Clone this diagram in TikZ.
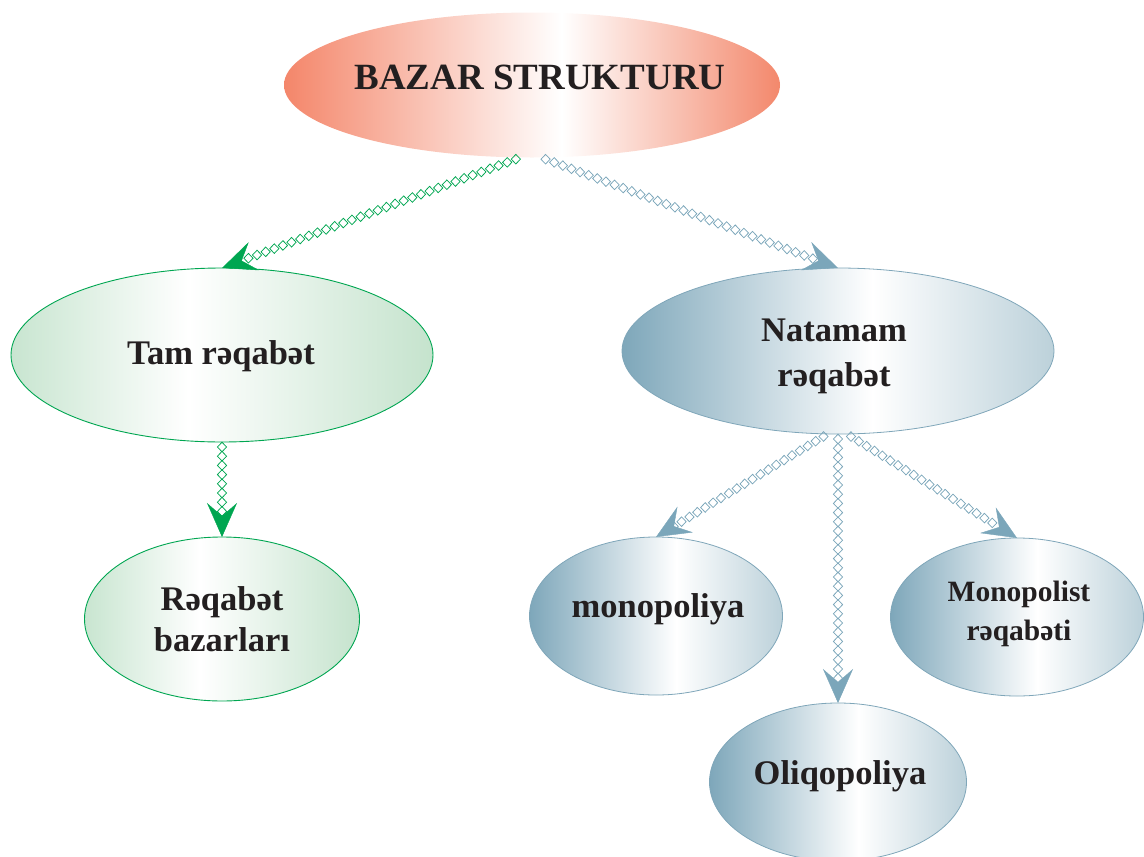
\documentclass[tikz,border=0pt]{standalone}
\usepackage{fontspec}
\setmainfont{Liberation Serif}
\usetikzlibrary{shapes.geometric,decorations.markings,arrows.meta}

% palette
\definecolor{ink}{HTML}{231F20}
\definecolor{salmonL}{HTML}{F4866A}
\definecolor{salmonR}{HTML}{F3886C}
\definecolor{grn}{HTML}{00A651}
\definecolor{grnL}{HTML}{C8E5D0}
\definecolor{grnR}{HTML}{C5E3CD}
\definecolor{bluL}{HTML}{7EA7BA}
\definecolor{bluR}{HTML}{BCD1DA}
\definecolor{bluedge}{HTML}{7FA6B9}
\definecolor{bluarrow}{HTML}{7BA6BA}

% horizontal fills (inner 25bp..75bp span the shape)
\pgfdeclarehorizontalshading{salmonshade}{100bp}{color(0bp)=(salmonL); color(25bp)=(salmonL); color(53bp)=(white); color(75bp)=(salmonR); color(100bp)=(salmonR)}
\pgfdeclarehorizontalshading{greenshade}{100bp}{color(0bp)=(grnL); color(25bp)=(grnL); color(46bp)=(white); color(75bp)=(grnR); color(100bp)=(grnR)}
\pgfdeclarehorizontalshading{blueshade}{100bp}{color(0bp)=(bluL); color(25bp)=(bluL); color(54bp)=(white); color(75bp)=(bluR); color(100bp)=(bluR)}

\tikzset{
  oval/.style={ellipse, inner sep=0pt, outer sep=0pt},
  topoval/.style={oval, shade, shading=salmonshade},
  greenoval/.style={oval, draw=grn, line width=0.9pt, shade, shading=greenshade},
  blueoval/.style={oval, draw=bluedge, line width=0.8pt, shade, shading=blueshade},
  lbl/.style={anchor=base, text=ink, inner sep=0pt, font=\bfseries\fontsize{34.5}{40}\selectfont},
  smalllbl/.style={lbl, font=\bfseries\fontsize{29.5}{36}\selectfont},
  % chain of small upright diamonds ending in a barbed head
  linkchain/.style={decoration={markings,
      mark=between positions 5pt and -20pt step 9.2pt with
        {\pgftransformresetnontranslations
         \draw[draw=#1, line width=0.75pt] (-4.6pt,0pt) -- (0pt,4.8pt) -- (4.6pt,0pt) -- (0pt,-4.8pt) -- cycle;},
      mark=at position 1 with
        {\arrow[#1]{Stealth[length=34pt, width=30pt, inset=13pt]}}},
    decorate},
}

\begin{document}
\begin{tikzpicture}[x=1pt, y=-1pt]
\useasboundingbox (0,0) rectangle (1144,857);

% ovals
\node[topoval, minimum width=496pt, minimum height=145pt] (top) at (532,85) {};
\node[greenoval, minimum width=422pt, minimum height=174pt] (tam) at (222,355) {};
\node[blueoval, minimum width=432pt, minimum height=166pt] (nat) at (838,351) {};
\node[greenoval, minimum width=275pt, minimum height=164pt] (rb) at (222,619) {};
\node[blueoval, minimum width=253pt, minimum height=158pt] (mono) at (656,616) {};
\node[blueoval, minimum width=253pt, minimum height=158pt] (mpr) at (1017,617) {};
\node[blueoval, minimum width=257pt, minimum height=158pt] (oliq) at (838,782) {};

% labels
\node[lbl, font=\bfseries\fontsize{37}{40}\selectfont] (topText) at (540,89) {BAZAR STRUKTURU};
\node[lbl] (tamText) at (221,364) {Tam rəqabət};
\node[lbl] (natText1) at (834,341) {Natamam};
\node[lbl] (natText2) at (834,386) {rəqabət};
\node[lbl] (rbText1) at (222,610) {Rəqabət};
\node[lbl] (rbText2) at (222,651) {bazarları};
\node[lbl] (monoText) at (658,617) {monopoliya};
\node[smalllbl] (mprText1) at (1019,601) {Monopolist};
\node[smalllbl] (mprText2) at (1019,640) {rəqabəti};
\node[lbl] (oliqText) at (840,784) {Oliqopoliya};

% connectors
\path[linkchain=grn] (top.261) -- (tam.north);
\path[linkchain=bluarrow] (top.277) -- (nat.north);
\path[linkchain=grn] (tam.south) -- (rb.north);
\path[linkchain=bluarrow] (nat.263) -- (mono.north);
\path[linkchain=bluarrow] (nat.south) -- (oliq.north);
\path[linkchain=bluarrow] (nat.276) -- (mpr.north);
\end{tikzpicture}
\end{document}
